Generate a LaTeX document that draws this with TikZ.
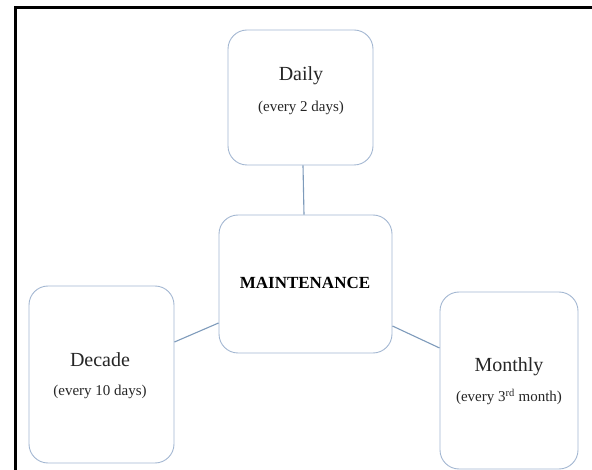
\documentclass[tikz,border=0pt]{standalone}
\usepackage{fontspec}
\setmainfont{Liberation Serif}
\definecolor{boxc}{HTML}{A4B8D2}
\definecolor{linkc}{HTML}{7E9BBB}
\begin{document}
\begin{tikzpicture}[x=1pt,y=-1pt,
  box/.style={draw=boxc, line width=0.9pt, rounded corners=19pt, fill=white, inner sep=0pt},
  link/.style={draw=linkc, line width=1.1pt},
  ttl/.style={font=\fontsize{20}{24}\selectfont, text=black!85, inner sep=0pt},
  sub/.style={font=\fontsize{15}{18}\selectfont, text=black!85, inner sep=0pt},
  bold/.style={font=\fontsize{17}{20}\selectfont\bfseries, text=black, inner sep=0pt}]
\useasboundingbox (0,0) rectangle (592,470);
\clip (0,0) rectangle (592,470);
\fill[white] (0,0) rectangle (592,470);
\draw[line width=3pt] (15,490) -- (15,8) -- (610,8);
\node[box, minimum width=145pt, minimum height=135pt] (daily) at (300.5,97.5) {};
\node[box, minimum width=173pt, minimum height=138pt] (center) at (305.5,284) {};
\node[box, minimum width=145pt, minimum height=177pt] (decade) at (101.5,374.5) {};
\node[box, minimum width=138pt, minimum height=177pt] (monthly) at (509,380.5) {};
\draw[link] (daily.south -| 303,0) -- (center.north -| 304,0);
\draw[link] (decade.east |- 0,342) -- (center.west |- 0,323);
\draw[link] (center.east |- 0,326) -- (monthly.west |- 0,348);
\node[ttl] (dailyt) at (301,76) {Daily};
\node[sub] (dailys) at (301,108) {(every 2 days)};
\node[bold] (centert) at (305,283) {MAINTENANCE};
\node[ttl] (decadet) at (100,360) {Decade};
\node[sub] (decades) at (100,392) {(every 10 days)};
\node[ttl] (montht) at (509,367) {Monthly};
\node[sub] (months) at (509,397) {(every 3\textsuperscript{rd} month)};
\end{tikzpicture}
\end{document}
